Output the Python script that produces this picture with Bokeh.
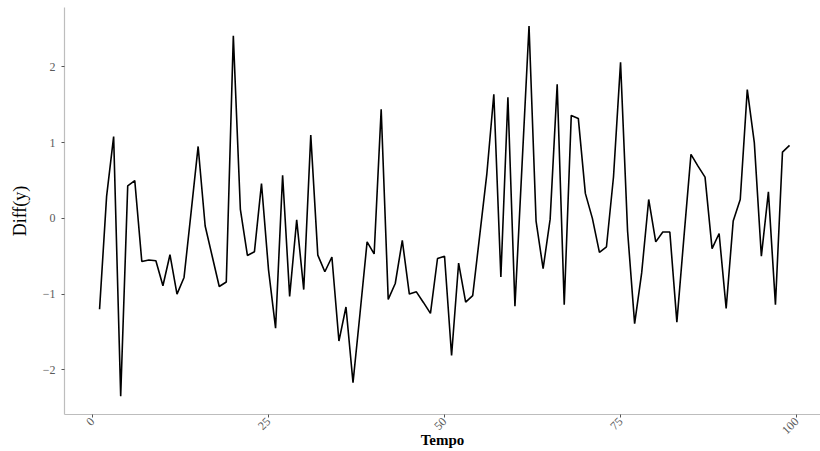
import math
from bokeh.plotting import figure
from bokeh.models import ColumnDataSource, Range1d, FixedTicker
from bokeh.embed import file_html
from bokeh.resources import INLINE

# serie diferenciada
tempo = list(range(1, 100))
diff_y = [
    -1.20, 0.29, 1.08, -2.35, 0.43, 0.50, -0.57, -0.55, -0.56, -0.89,
    -0.48, -1.00, -0.78, 0.08, 0.95, -0.10, -0.50, -0.90, -0.84, 2.41,
    0.12, -0.49, -0.44, 0.46, -0.68, -1.45, 0.57, -1.03, -0.02, -0.94,
    1.10, -0.485, -0.705, -0.51, -1.62, -1.17, -2.17, -1.25, -0.31, -0.47,
    1.44, -1.07, -0.86, -0.29, -1.00, -0.97, -1.11, -1.255, -0.53, -0.50,
    -1.81, -0.59, -1.105, -1.02, -0.22, 0.58, 1.64, -0.775, 1.60, -1.16,
    0.69, 2.54, -0.035, -0.665, -0.01, 1.77, -1.14, 1.36, 1.32, 0.33,
    0.00, -0.45, -0.375, 0.55, 2.06, -0.17, -1.39, -0.72, 0.25, -0.31,
    -0.18, -0.18, -1.37, -0.25, 0.845, 0.69, 0.545, -0.40, -0.20, -1.19,
    -0.035, 0.25, 1.70, 1.00, -0.50, 0.35, -1.14, 0.875, 0.965,
]
x_ticks = [0, 25, 50, 75, 100]
y_ticks = [-2, -1, 0, 1, 2]

source = ColumnDataSource(data={"x": tempo, "y": diff_y})

p = figure(width=820, height=450, output_backend="svg", toolbar_location=None,
           x_range=Range1d(-3.98, 103.4), y_range=Range1d(-2.59, 2.785),
           min_border_left=64, min_border_right=0, min_border_top=7, min_border_bottom=34)

p.line(x="x", y="y", source=source, line_color="black", line_width=1.6)

p.outline_line_color = None
p.xgrid.grid_line_color = None
p.ygrid.grid_line_color = None
p.background_fill_color = "white"

# eixos
p.xaxis.ticker = FixedTicker(ticks=x_ticks)
p.yaxis.ticker = FixedTicker(ticks=y_ticks)
p.yaxis.major_label_overrides = {t: str(t).replace("-", "\u2212") for t in y_ticks}
p.xaxis.major_label_orientation = math.pi / 4

for ax in [p.xaxis, p.yaxis]:
    ax.axis_line_color = "#bdbdbd"
    ax.axis_line_width = 1.2
    ax.major_tick_line_color = "#555555"
    ax.major_tick_in = 0
    ax.major_tick_out = 3
    ax.minor_tick_line_color = None
    ax.major_label_text_font = "Liberation Serif"
    ax.major_label_text_font_size = "12px"
    ax.major_label_text_color = "#5a5a5a"
    ax.major_label_standoff = 2

p.yaxis.major_label_standoff = 6

p.xaxis.axis_label = "Tempo"
p.xaxis.axis_label_text_font = "Liberation Serif"
p.xaxis.axis_label_text_font_style = "bold"
p.xaxis.axis_label_text_font_size = "15px"
p.xaxis.axis_label_text_color = "black"
p.xaxis.axis_label_standoff = -9

p.yaxis.axis_label = "Diff(y)"
p.yaxis.axis_label_text_font = "Liberation Serif"
p.yaxis.axis_label_text_font_style = "normal"
p.yaxis.axis_label_text_font_size = "18px"
p.yaxis.axis_label_text_color = "black"
p.yaxis.axis_label_standoff = 10

open("out.html", "w").write(file_html(p, INLINE))
